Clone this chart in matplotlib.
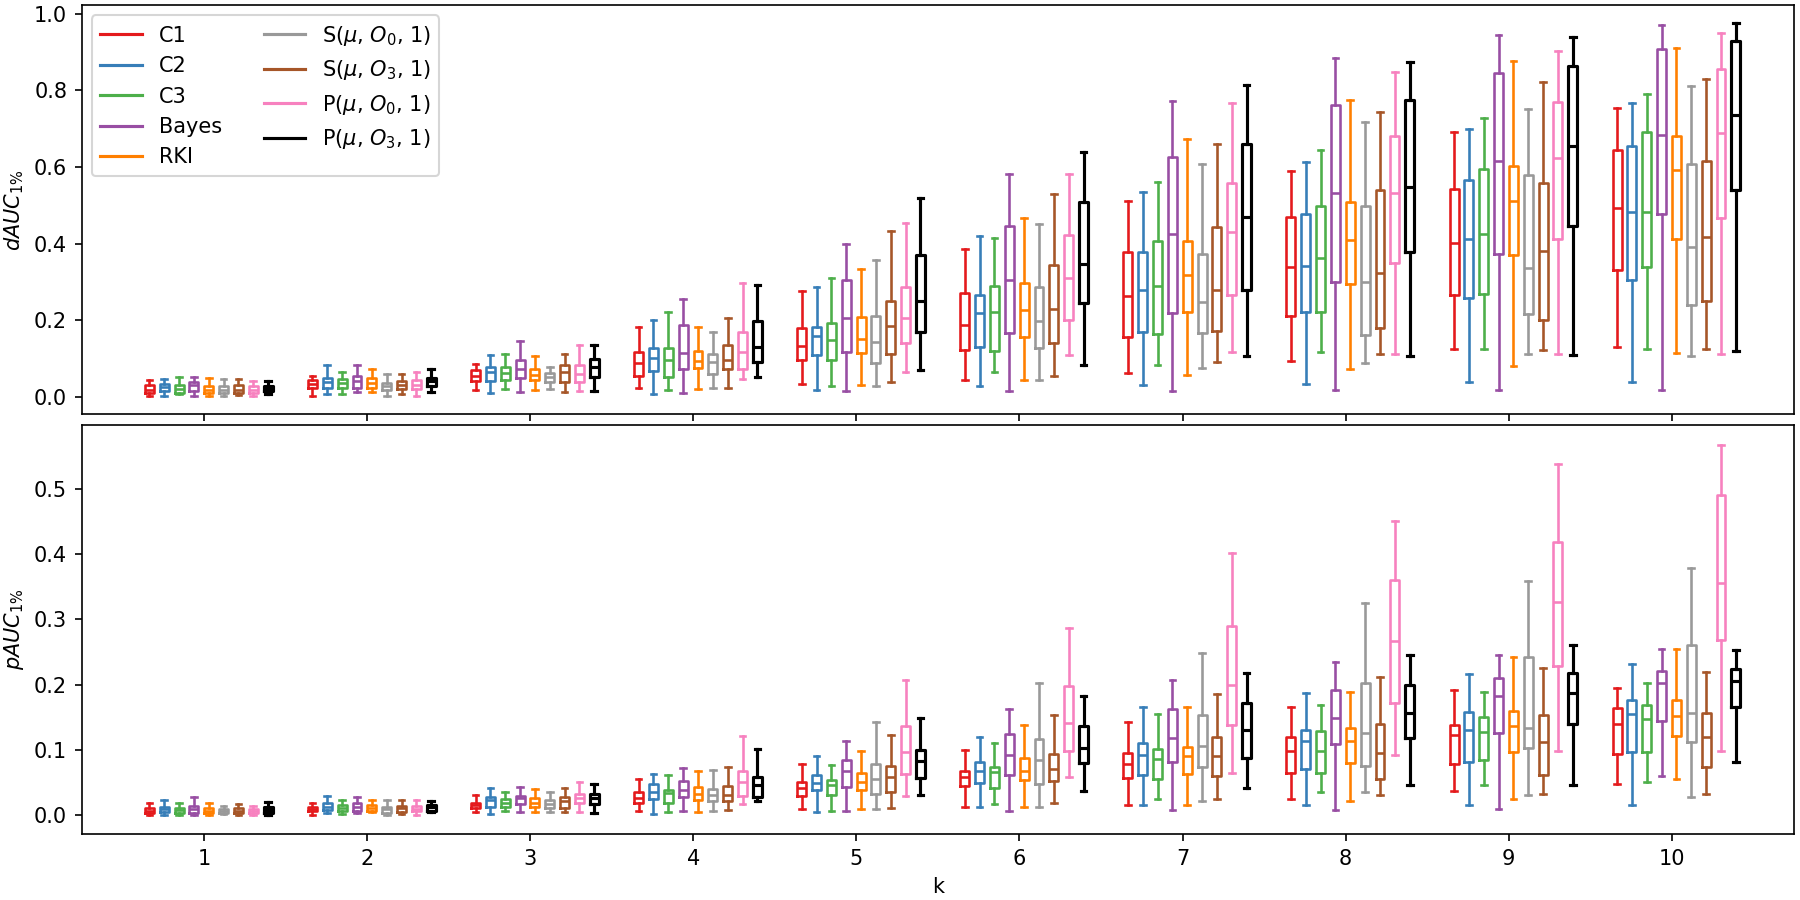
import matplotlib
matplotlib.use("Agg")
import matplotlib.pyplot as plt
from matplotlib.lines import Line2D

ks = list(range(1, 11))
labels = ["C1", "C2", "C3", "Bayes", "RKI",
          r"S($\mu$, $O_0$, 1)", r"S($\mu$, $O_3$, 1)",
          r"P($\mu$, $O_0$, 1)", r"P($\mu$, $O_3$, 1)"]
colors = ["#e41a1c", "#377eb8", "#4daf4a", "#984ea3", "#ff7f00",
          "#999999", "#a65628", "#f781bf", "#000000"]

# ---- dAUC_1% : rows = k (1..10), columns = series (order of labels)
dauc_hi = [
    [0.043, 0.046, 0.053, 0.053, 0.049, 0.046, 0.046, 0.042, 0.040],
    [0.055, 0.083, 0.066, 0.083, 0.072, 0.060, 0.060, 0.066, 0.072],
    [0.085, 0.110, 0.112, 0.147, 0.107, 0.077, 0.112, 0.136, 0.136],
    [0.181, 0.201, 0.222, 0.256, 0.181, 0.168, 0.206, 0.297, 0.292],
    [0.276, 0.286, 0.310, 0.398, 0.334, 0.357, 0.434, 0.454, 0.518],
    [0.387, 0.421, 0.414, 0.582, 0.468, 0.450, 0.529, 0.582, 0.638],
    [0.512, 0.536, 0.560, 0.773, 0.673, 0.609, 0.660, 0.767, 0.814],
    [0.589, 0.613, 0.645, 0.884, 0.774, 0.718, 0.744, 0.847, 0.874],
    [0.692, 0.700, 0.729, 0.945, 0.876, 0.751, 0.821, 0.902, 0.939],
    [0.753, 0.766, 0.791, 0.972, 0.910, 0.811, 0.829, 0.951, 0.975],
]
dauc_q3 = [
    [0.030, 0.033, 0.031, 0.038, 0.029, 0.027, 0.031, 0.027, 0.027],
    [0.043, 0.050, 0.046, 0.055, 0.049, 0.036, 0.040, 0.044, 0.050],
    [0.069, 0.079, 0.079, 0.095, 0.072, 0.063, 0.083, 0.083, 0.100],
    [0.116, 0.128, 0.128, 0.188, 0.120, 0.113, 0.134, 0.170, 0.199],
    [0.179, 0.181, 0.192, 0.304, 0.208, 0.212, 0.251, 0.286, 0.369],
    [0.271, 0.267, 0.289, 0.447, 0.296, 0.288, 0.343, 0.423, 0.508],
    [0.379, 0.379, 0.408, 0.626, 0.406, 0.373, 0.443, 0.558, 0.659],
    [0.469, 0.478, 0.497, 0.761, 0.509, 0.497, 0.539, 0.682, 0.774],
    [0.543, 0.565, 0.596, 0.846, 0.602, 0.578, 0.558, 0.769, 0.865],
    [0.644, 0.654, 0.692, 0.907, 0.680, 0.607, 0.617, 0.856, 0.929],
]
dauc_med = [
    [0.018, 0.025, 0.020, 0.030, 0.018, 0.018, 0.018, 0.018, 0.020],
    [0.033, 0.038, 0.037, 0.042, 0.036, 0.029, 0.031, 0.031, 0.042],
    [0.055, 0.065, 0.063, 0.072, 0.057, 0.051, 0.064, 0.060, 0.079],
    [0.087, 0.102, 0.096, 0.114, 0.094, 0.090, 0.096, 0.116, 0.131],
    [0.133, 0.160, 0.148, 0.205, 0.151, 0.142, 0.186, 0.205, 0.249],
    [0.188, 0.219, 0.222, 0.304, 0.227, 0.199, 0.229, 0.310, 0.347],
    [0.262, 0.278, 0.290, 0.426, 0.317, 0.247, 0.279, 0.430, 0.469],
    [0.338, 0.342, 0.362, 0.532, 0.409, 0.301, 0.324, 0.533, 0.549],
    [0.401, 0.413, 0.426, 0.617, 0.510, 0.336, 0.382, 0.624, 0.654],
    [0.493, 0.482, 0.482, 0.683, 0.593, 0.392, 0.416, 0.689, 0.736],
]
dauc_q1 = [
    [0.010, 0.014, 0.011, 0.014, 0.010, 0.011, 0.010, 0.011, 0.014],
    [0.024, 0.024, 0.024, 0.024, 0.023, 0.017, 0.020, 0.020, 0.029],
    [0.040, 0.040, 0.044, 0.049, 0.044, 0.038, 0.038, 0.038, 0.053],
    [0.055, 0.068, 0.053, 0.072, 0.074, 0.059, 0.072, 0.072, 0.092],
    [0.097, 0.110, 0.096, 0.116, 0.115, 0.087, 0.112, 0.140, 0.170],
    [0.122, 0.129, 0.119, 0.166, 0.157, 0.127, 0.141, 0.201, 0.245],
    [0.156, 0.170, 0.163, 0.219, 0.221, 0.167, 0.173, 0.266, 0.279],
    [0.212, 0.222, 0.221, 0.301, 0.294, 0.161, 0.180, 0.349, 0.378],
    [0.266, 0.257, 0.269, 0.374, 0.371, 0.215, 0.201, 0.413, 0.446],
    [0.332, 0.304, 0.338, 0.478, 0.411, 0.241, 0.249, 0.468, 0.539],
]
dauc_lo = [
    [0.001, 0.001, 0.007, 0.003, 0.003, 0.003, 0.004, 0.003, 0.007],
    [0.001, 0.008, 0.008, 0.013, 0.012, 0.003, 0.007, 0.003, 0.012],
    [0.017, 0.010, 0.020, 0.013, 0.018, 0.020, 0.012, 0.016, 0.014],
    [0.022, 0.007, 0.017, 0.011, 0.020, 0.022, 0.022, 0.046, 0.053],
    [0.033, 0.017, 0.027, 0.014, 0.030, 0.027, 0.039, 0.065, 0.070],
    [0.044, 0.027, 0.064, 0.014, 0.044, 0.044, 0.055, 0.109, 0.083],
    [0.062, 0.031, 0.084, 0.016, 0.057, 0.075, 0.090, 0.116, 0.106],
    [0.094, 0.033, 0.118, 0.017, 0.072, 0.087, 0.113, 0.113, 0.106],
    [0.125, 0.038, 0.125, 0.018, 0.081, 0.112, 0.122, 0.113, 0.109],
    [0.129, 0.039, 0.126, 0.018, 0.114, 0.106, 0.126, 0.113, 0.120],
]

# ---- pAUC_1% : rows = k (1..10), columns = series
pauc_hi = [
    [0.018, 0.023, 0.019, 0.027, 0.018, 0.014, 0.017, 0.014, 0.020],
    [0.018, 0.029, 0.023, 0.027, 0.023, 0.023, 0.023, 0.023, 0.022],
    [0.031, 0.041, 0.035, 0.043, 0.040, 0.035, 0.041, 0.050, 0.048],
    [0.055, 0.063, 0.061, 0.072, 0.068, 0.069, 0.074, 0.121, 0.101],
    [0.078, 0.090, 0.076, 0.113, 0.098, 0.143, 0.122, 0.207, 0.148],
    [0.099, 0.119, 0.111, 0.163, 0.138, 0.202, 0.154, 0.287, 0.183],
    [0.142, 0.166, 0.155, 0.207, 0.166, 0.248, 0.186, 0.402, 0.218],
    [0.165, 0.187, 0.168, 0.234, 0.188, 0.325, 0.212, 0.451, 0.245],
    [0.191, 0.216, 0.188, 0.245, 0.242, 0.359, 0.226, 0.537, 0.261],
    [0.195, 0.232, 0.203, 0.254, 0.254, 0.379, 0.219, 0.567, 0.253],
]
pauc_q3 = [
    [0.011, 0.013, 0.011, 0.014, 0.011, 0.010, 0.011, 0.010, 0.012],
    [0.013, 0.018, 0.015, 0.018, 0.016, 0.013, 0.014, 0.014, 0.016],
    [0.019, 0.028, 0.024, 0.030, 0.026, 0.023, 0.028, 0.033, 0.032],
    [0.036, 0.047, 0.039, 0.052, 0.043, 0.040, 0.045, 0.067, 0.058],
    [0.051, 0.061, 0.054, 0.085, 0.064, 0.079, 0.075, 0.136, 0.099],
    [0.068, 0.081, 0.074, 0.124, 0.088, 0.117, 0.094, 0.198, 0.136],
    [0.095, 0.110, 0.101, 0.162, 0.105, 0.154, 0.120, 0.290, 0.172],
    [0.119, 0.130, 0.129, 0.191, 0.134, 0.202, 0.140, 0.360, 0.199],
    [0.138, 0.158, 0.150, 0.210, 0.160, 0.242, 0.154, 0.418, 0.217],
    [0.164, 0.176, 0.168, 0.220, 0.176, 0.260, 0.156, 0.491, 0.224],
]
pauc_med = [
    [0.007, 0.009, 0.008, 0.009, 0.007, 0.007, 0.007, 0.007, 0.008],
    [0.009, 0.013, 0.011, 0.013, 0.011, 0.009, 0.011, 0.010, 0.012],
    [0.016, 0.023, 0.019, 0.026, 0.019, 0.017, 0.021, 0.026, 0.026],
    [0.026, 0.035, 0.034, 0.039, 0.032, 0.031, 0.031, 0.050, 0.046],
    [0.042, 0.049, 0.046, 0.067, 0.051, 0.055, 0.059, 0.096, 0.083],
    [0.059, 0.067, 0.066, 0.092, 0.067, 0.084, 0.070, 0.141, 0.103],
    [0.078, 0.092, 0.086, 0.118, 0.091, 0.106, 0.090, 0.199, 0.131],
    [0.098, 0.113, 0.098, 0.148, 0.113, 0.125, 0.095, 0.266, 0.157],
    [0.122, 0.131, 0.128, 0.182, 0.136, 0.134, 0.112, 0.327, 0.187],
    [0.139, 0.155, 0.147, 0.203, 0.152, 0.156, 0.119, 0.355, 0.205],
]
pauc_q1 = [
    [0.003, 0.004, 0.003, 0.003, 0.003, 0.003, 0.003, 0.003, 0.003],
    [0.006, 0.008, 0.006, 0.007, 0.007, 0.003, 0.005, 0.006, 0.007],
    [0.011, 0.013, 0.013, 0.017, 0.013, 0.011, 0.011, 0.018, 0.017],
    [0.019, 0.024, 0.019, 0.028, 0.023, 0.021, 0.022, 0.029, 0.028],
    [0.029, 0.038, 0.031, 0.043, 0.039, 0.033, 0.036, 0.063, 0.057],
    [0.044, 0.049, 0.041, 0.061, 0.053, 0.047, 0.052, 0.098, 0.080],
    [0.057, 0.061, 0.056, 0.082, 0.063, 0.073, 0.060, 0.138, 0.088],
    [0.064, 0.071, 0.064, 0.109, 0.080, 0.075, 0.056, 0.172, 0.118],
    [0.078, 0.082, 0.085, 0.126, 0.097, 0.103, 0.062, 0.228, 0.139],
    [0.094, 0.097, 0.096, 0.144, 0.121, 0.112, 0.073, 0.268, 0.166],
]
pauc_lo = [
    [0.000, 0.000, 0.000, 0.000, 0.000, 0.002, 0.000, 0.000, 0.000],
    [0.000, 0.003, 0.002, 0.003, 0.004, 0.000, 0.002, 0.000, 0.004],
    [0.004, 0.002, 0.006, 0.004, 0.004, 0.005, 0.004, 0.005, 0.003],
    [0.006, 0.002, 0.005, 0.007, 0.005, 0.007, 0.008, 0.017, 0.021],
    [0.009, 0.005, 0.007, 0.007, 0.009, 0.009, 0.011, 0.030, 0.031],
    [0.012, 0.013, 0.017, 0.007, 0.012, 0.012, 0.018, 0.058, 0.037],
    [0.015, 0.015, 0.024, 0.008, 0.016, 0.021, 0.024, 0.065, 0.041],
    [0.024, 0.015, 0.035, 0.008, 0.021, 0.035, 0.031, 0.092, 0.046],
    [0.037, 0.015, 0.046, 0.009, 0.024, 0.031, 0.033, 0.098, 0.046],
    [0.048, 0.015, 0.051, 0.060, 0.055, 0.027, 0.032, 0.098, 0.081],
]

offsets = [-0.335 + 0.091 * i for i in range(len(labels))]
box_w = 0.055
cap_w = 0.035


def draw_panel(ax, lo, q1, med, q3, hi):
    for s, col in enumerate(colors):
        stats = []
        pos = []
        for r, k in enumerate(ks):
            stats.append(dict(whislo=lo[r][s], q1=q1[r][s], med=med[r][s],
                              q3=q3[r][s], whishi=hi[r][s], fliers=[]))
            pos.append(k + offsets[s])
        lw = 1.5 if col == "#000000" else 1.25
        lp = dict(color=col, linewidth=lw)
        ax.bxp(stats, positions=pos, widths=box_w, capwidths=cap_w,
               showfliers=False, boxprops=lp, whiskerprops=lp, capprops=lp,
               medianprops=lp, manage_ticks=False)


fig, (ax1, ax2) = plt.subplots(2, 1, figsize=(12, 6), dpi=150, sharex=True)
fig.subplots_adjust(left=0.0454, right=0.9967, top=0.9944, bottom=0.0733,
                    hspace=0.025)

draw_panel(ax1, dauc_lo, dauc_q1, dauc_med, dauc_q3, dauc_hi)
draw_panel(ax2, pauc_lo, pauc_q1, pauc_med, pauc_q3, pauc_hi)

ax2.set_xticks(ks)
ax2.set_xticklabels([str(k) for k in ks])
ax2.set_xlim(0.25, 10.75)
ax1.set_ylim(-0.046, 1.023)
ax2.set_ylim(-0.029, 0.598)

ax1.set_ylabel(r"$dAUC_{1\%}$")
ax2.set_ylabel(r"$pAUC_{1\%}$")
ax2.set_xlabel("k")

handles = [Line2D([0], [0], color=c, linewidth=1.5) for c in colors]
ax1.legend(handles, labels, loc="upper left", ncol=2)

fig.savefig("out.png", dpi=150)
